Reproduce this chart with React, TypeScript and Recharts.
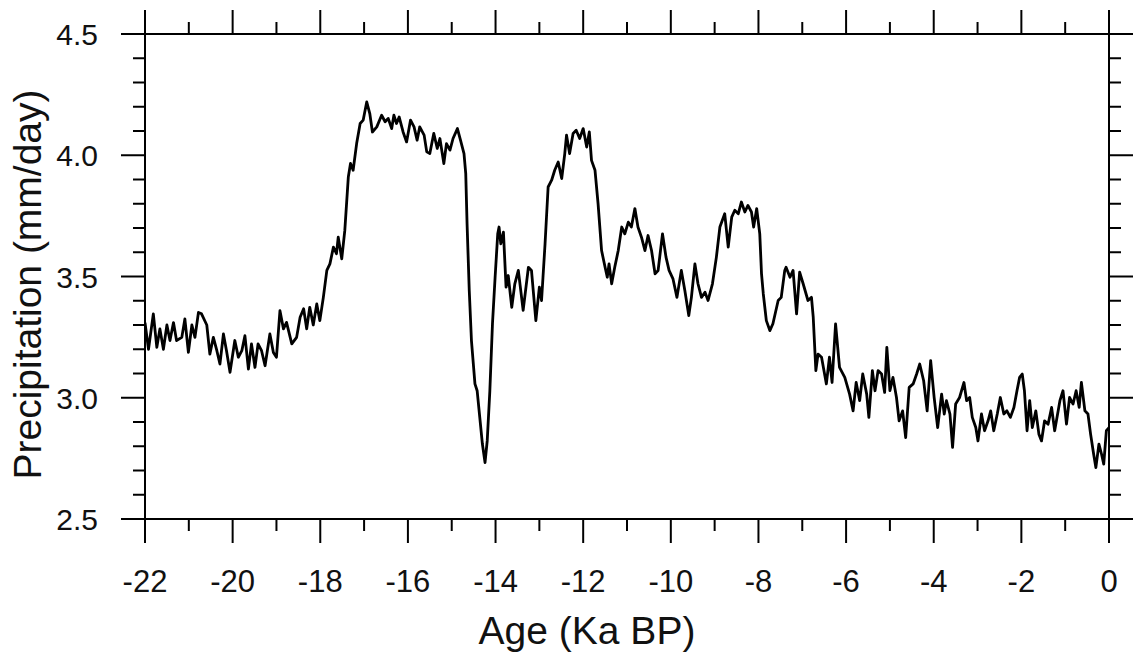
import React from 'react';
import { LineChart, Line, XAxis, YAxis } from 'recharts';

const ages: number[] = [
  -22.0, -21.92, -21.81, -21.73, -21.66, -21.58, -21.5, -21.43, -21.35, -21.28,
  -21.16, -21.09, -21.01, -20.93, -20.86, -20.78, -20.71, -20.59, -20.52, -20.44,
  -20.36, -20.29, -20.21, -20.14, -20.06, -19.95, -19.87, -19.79, -19.72, -19.64,
  -19.57, -19.49, -19.42, -19.34, -19.26, -19.15, -19.07, -19.0, -18.92, -18.84,
  -18.77, -18.65, -18.54, -18.46, -18.38, -18.31, -18.24, -18.16, -18.08, -18.01,
  -17.93, -17.85,
  -17.78, -17.7, -17.63, -17.59, -17.51, -17.44, -17.36, -17.31, -17.25, -17.17,
  -17.09, -17.02, -16.94, -16.87, -16.81, -16.71, -16.6, -16.52, -16.45, -16.37,
  -16.32, -16.26, -16.2, -16.11, -16.03, -15.94, -15.86, -15.79, -15.73, -15.63,
  -15.57, -15.5, -15.41, -15.33, -15.27, -15.18, -15.12, -15.04, -14.97, -14.87,
  -14.8, -14.72, -14.68, -14.65, -14.6, -14.55, -14.47, -14.42, -14.36, -14.3,
  -14.24, -14.19, -14.13, -14.07, -14.01, -13.95, -13.92, -13.88, -13.82, -13.76,
  -13.71, -13.63, -13.56, -13.48,
  -13.37, -13.25, -13.18, -13.08, -13.0, -12.95, -12.87, -12.8, -12.72, -12.65,
  -12.57, -12.49, -12.42, -12.38, -12.31, -12.23, -12.16, -12.08, -12.0, -11.92,
  -11.86, -11.81, -11.73, -11.66, -11.58, -11.5, -11.45, -11.41, -11.35, -11.28,
  -11.2, -11.12, -11.05, -10.97, -10.9, -10.82, -10.75, -10.67, -10.59, -10.52,
  -10.44, -10.36, -10.29, -10.19, -10.11, -10.04, -9.95, -9.86, -9.76, -9.68,
  -9.59, -9.53, -9.45, -9.38, -9.3, -9.22, -9.15, -9.05, -8.96,
  -8.88, -8.77, -8.69, -8.61, -8.54, -8.46, -8.39, -8.31, -8.24, -8.16,
  -8.11, -8.04, -7.97, -7.93, -7.89, -7.82, -7.74, -7.67, -7.55, -7.48,
  -7.4, -7.37, -7.28, -7.21, -7.13,
  -7.06, -6.98, -6.87, -6.79, -6.75, -6.69, -6.64, -6.56, -6.45, -6.38,
  -6.32, -6.24, -6.15, -6.03, -5.92, -5.84, -5.77, -5.69, -5.62, -5.53,
  -5.48, -5.4, -5.34, -5.27, -5.19, -5.12, -5.07, -5.0, -4.93, -4.85,
  -4.79, -4.71, -4.64, -4.56, -4.47, -4.39, -4.32, -4.23, -4.15, -4.07,
  -3.99, -3.91, -3.82, -3.76, -3.71, -3.63, -3.57, -3.5, -3.41, -3.31,
  -3.25, -3.18, -3.12, -3.04, -2.99, -2.91, -2.84, -2.76, -2.7, -2.63,
  -2.55, -2.48, -2.4, -2.33, -2.25, -2.17, -2.1, -2.04, -1.98, -1.93,
  -1.87, -1.81, -1.75, -1.67, -1.6, -1.54, -1.47, -1.39, -1.31, -1.24,
  -1.12, -1.05, -0.97, -0.9, -0.82, -0.75, -0.68, -0.63, -0.55, -0.48,
  -0.42, -0.35, -0.3, -0.23, -0.17, -0.12, -0.06, 0.0,
];

const precip: number[] = [
  3.31, 3.2, 3.346, 3.208, 3.284, 3.2, 3.3, 3.236, 3.31, 3.236,
  3.249, 3.325, 3.187, 3.3, 3.249, 3.352, 3.346, 3.3, 3.18, 3.249,
  3.194, 3.139, 3.263, 3.194, 3.105, 3.236, 3.167, 3.194, 3.256, 3.118,
  3.222, 3.125, 3.222, 3.194, 3.132, 3.263, 3.187, 3.167, 3.359, 3.284,
  3.311, 3.222, 3.249, 3.332, 3.367, 3.284, 3.373, 3.3, 3.387, 3.318,
  3.414, 3.525,
  3.552, 3.621, 3.594, 3.662, 3.573, 3.69, 3.91, 3.966, 3.938, 4.048,
  4.131, 4.145, 4.22, 4.172, 4.096, 4.117, 4.165, 4.138, 4.152, 4.11,
  4.165, 4.131, 4.158, 4.096, 4.055, 4.145, 4.117, 4.062, 4.117, 4.083,
  4.014, 4.007, 4.09, 4.028, 4.069, 3.966, 4.048, 4.021, 4.069, 4.11,
  4.062, 4.007, 3.924, 3.718, 3.442, 3.236, 3.057, 3.029, 2.919, 2.809,
  2.733, 2.822, 3.029, 3.305, 3.497, 3.676, 3.704, 3.635, 3.683, 3.456,
  3.504, 3.373, 3.47, 3.525,
  3.36, 3.538, 3.525, 3.318, 3.456, 3.401, 3.635, 3.869, 3.897, 3.938,
  3.972, 3.904, 4.007, 4.083, 4.007, 4.09, 4.103, 4.069, 4.11, 4.034,
  4.096, 3.979, 3.938, 3.8, 3.607, 3.538, 3.497, 3.552, 3.47, 3.538,
  3.607, 3.704, 3.676, 3.724, 3.704, 3.78, 3.704, 3.662, 3.607, 3.669,
  3.607, 3.511, 3.525, 3.676, 3.58, 3.525, 3.49, 3.414, 3.525, 3.442,
  3.339, 3.414, 3.552, 3.47, 3.414, 3.435, 3.401, 3.47, 3.58,
  3.704, 3.759, 3.621, 3.745, 3.773, 3.759, 3.807, 3.766, 3.793, 3.766,
  3.704, 3.78, 3.676, 3.511, 3.429, 3.318, 3.277, 3.305, 3.401, 3.414,
  3.525, 3.538, 3.497, 3.525, 3.346,
  3.518, 3.47, 3.401, 3.414, 3.332, 3.112, 3.18, 3.167, 3.057, 3.167,
  3.063, 3.305, 3.125, 3.084, 3.015, 2.946, 3.063, 2.988, 3.098, 3.015,
  2.919, 3.112, 3.029, 3.112, 3.098, 3.022, 3.208, 3.029, 3.084, 3.001,
  2.905, 2.946, 2.836, 3.043, 3.057, 3.098, 3.139, 3.07, 2.946, 3.153,
  3.001, 2.877, 3.015, 2.933, 2.988, 2.933, 2.795, 2.974, 3.001, 3.063,
  2.988, 3.001, 2.919, 2.877, 2.822, 2.933, 2.864, 2.905, 2.946, 2.864,
  2.933, 3.001, 2.933, 2.946, 2.919, 2.96, 3.029, 3.084, 3.098, 3.029,
  2.864, 2.988, 2.877, 2.946, 2.85, 2.822, 2.905, 2.891, 2.96, 2.864,
  2.988, 3.029, 2.891, 3.001, 2.974, 3.029, 2.96, 3.063, 2.946, 2.933,
  2.85, 2.767, 2.712, 2.809, 2.767, 2.726, 2.864, 2.877,
];

const xTicks: number[] = [-22, -21, -20, -19, -18, -17, -16, -15, -14, -13, -12, -11, -10, -9, -8, -7, -6, -5, -4, -3, -2, -1, 0];
const yTicks: number[] = [2.5, 2.6, 2.7, 2.8, 2.9, 3.0, 3.1, 3.2, 3.3, 3.4, 3.5, 3.6, 3.7, 3.8, 3.9, 4.0, 4.1, 4.2, 4.3, 4.4, 4.5];

const data = ages.map((a, i) => ({ age: a, p: precip[i] }));

const FONT = '"Liberation Sans", Arial, Helvetica, sans-serif';
const MAJOR = 24;
const MINOR = 12;

const isMajorX = (v: number) => Math.abs(v % 2) < 1e-6;
const isMajorY = (v: number) => Math.abs(v * 2 - Math.round(v * 2)) < 1e-6;

const XTickBottom = (props: any) => {
  const { x, y, payload } = props;
  const v = payload.value as number;
  const major = isMajorX(v);
  return (
    <g>
      <line x1={x} x2={x} y1={y} y2={y + (major ? MAJOR : MINOR)} stroke="#000" strokeWidth={2} />
      {major && (
        <text x={x} y={y + 73} textAnchor="middle" fontFamily={FONT} fontSize={31} fill="#111">
          {String(v)}
        </text>
      )}
    </g>
  );
};

const XTickTop = (props: any) => {
  const { x, y, payload } = props;
  const major = isMajorX(payload.value as number);
  return <line x1={x} x2={x} y1={y} y2={y - (major ? MAJOR : MINOR)} stroke="#000" strokeWidth={2} />;
};

const YTickLeft = (props: any) => {
  const { x, y, payload } = props;
  const v = payload.value as number;
  const major = isMajorY(v);
  return (
    <g>
      <line x1={x} x2={x - (major ? MAJOR : MINOR)} y1={y} y2={y} stroke="#000" strokeWidth={2} />
      {major && (
        <text x={x - 47} y={y + 11} textAnchor="end" fontFamily={FONT} fontSize={30} fill="#111">
          {v.toFixed(1)}
        </text>
      )}
    </g>
  );
};

const YTickRight = (props: any) => {
  const { x, y, payload } = props;
  const major = isMajorY(payload.value as number);
  return <line x1={x} x2={x + (major ? MAJOR : MINOR)} y1={y} y2={y} stroke="#000" strokeWidth={2} />;
};

const YTitle = (props: any) => {
  const vb = props.viewBox || { x: 0, y: 0, width: 0, height: 0 };
  const cx = vb.x + 41;
  const cy = vb.y + vb.height / 2 + 8;
  return (
    <text x={cx} y={cy} transform={`rotate(-90, ${cx}, ${cy})`} textAnchor="middle" fontFamily={FONT} fontSize={39} fill="#111">
      Precipitation (mm/day)
    </text>
  );
};

const XTitle = (props: any) => {
  const vb = props.viewBox || { x: 0, y: 0, width: 0, height: 0 };
  const cx = vb.x + vb.width / 2 - 40;
  const cy = vb.y + 125;
  return (
    <text x={cx} y={cy} textAnchor="middle" fontFamily={FONT} fontSize={39} fill="#111">
      Age (Ka BP)
    </text>
  );
};

export default function App() {
  return (
    <div style={{ position: 'absolute', left: 0, top: 0, width: 1137, height: 662, background: '#fff' }}>
      <LineChart width={1137} height={662} data={data} margin={{ top: 0, right: 0, bottom: 0, left: 0 }}>
        <XAxis
          xAxisId="bottom"
          dataKey="age"
          type="number"
          domain={[-22, 0]}
          allowDataOverflow
          ticks={xTicks}
          interval={0}
          orientation="bottom"
          height={143}
          tickSize={0}
          tickMargin={0}
          tickLine={false}
          axisLine={{ stroke: '#000', strokeWidth: 2 }}
          tick={<XTickBottom />}
          label={<XTitle />}
        />
        <XAxis
          xAxisId="top"
          dataKey="age"
          type="number"
          domain={[-22, 0]}
          allowDataOverflow
          ticks={xTicks}
          interval={0}
          orientation="top"
          height={34}
          tickSize={0}
          tickMargin={0}
          tickLine={false}
          axisLine={{ stroke: '#000', strokeWidth: 2 }}
          tick={<XTickTop />}
        />
        <YAxis
          yAxisId="left"
          type="number"
          domain={[2.5, 4.5]}
          allowDataOverflow
          ticks={yTicks}
          interval={0}
          orientation="left"
          width={145}
          tickSize={0}
          tickMargin={0}
          tickLine={false}
          axisLine={{ stroke: '#000', strokeWidth: 2 }}
          tick={<YTickLeft />}
          label={<YTitle />}
        />
        <YAxis
          yAxisId="right"
          type="number"
          domain={[2.5, 4.5]}
          allowDataOverflow
          ticks={yTicks}
          interval={0}
          orientation="right"
          width={28}
          tickSize={0}
          tickMargin={0}
          tickLine={false}
          axisLine={{ stroke: '#000', strokeWidth: 2 }}
          tick={<YTickRight />}
        />
        <Line
          xAxisId="bottom"
          yAxisId="left"
          type="linear"
          dataKey="p"
          stroke="#000"
          strokeWidth={2.8}
          strokeLinejoin="round"
          dot={false}
          isAnimationActive={false}
        />
      </LineChart>
    </div>
  );
}
